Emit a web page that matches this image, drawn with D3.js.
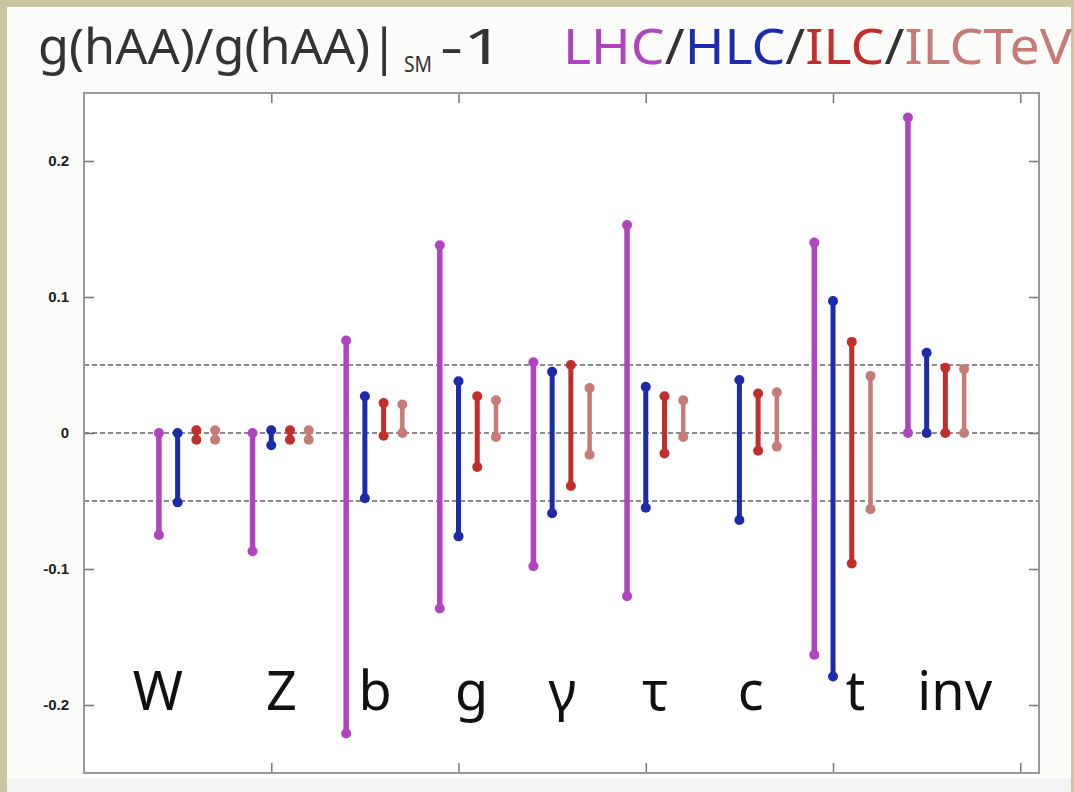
<!DOCTYPE html>
<html>
<head>
<meta charset="utf-8">
<script src="https://cdn.jsdelivr.net/npm/d3@7"></script>
<style>
  html, body { margin: 0; padding: 0; background: #cbc4a2; }
  svg { display: block; }
</style>
</head>
<body>
<div id="chart"></div>
<script>
// channels (x groups) and the four experiments, each entry = [low, high] of the coupling deviation
const categories = ["W", "Z", "b", "g", "γ", "τ", "c", "t", "inv"];
const labelPos = [0.79, 2.11, 3.11, 4.14, 5.11, 6.10, 7.12, 8.24, 9.30];
const lhc    = [[-0.075, 0], [-0.087, 0], [-0.221, 0.068], [-0.129, 0.138], [-0.098, 0.052], [-0.120, 0.153], null, [-0.163, 0.140], [0, 0.232]];
const hlc    = [[-0.051, 0], [-0.009, 0.002], [-0.048, 0.027], [-0.076, 0.038], [-0.059, 0.045], [-0.055, 0.034], [-0.064, 0.039], [-0.179, 0.097], [0, 0.059]];
const ilc    = [[-0.005, 0.002], [-0.005, 0.002], [-0.002, 0.022], [-0.025, 0.027], [-0.039, 0.050], [-0.015, 0.027], [-0.013, 0.029], [-0.096, 0.067], [0, 0.048]];
const ilcTeV = [[-0.005, 0.002], [-0.005, 0.002], [0, 0.021], [-0.003, 0.024], [-0.016, 0.033], [-0.003, 0.024], [-0.010, 0.030], [-0.056, 0.042], [0, 0.047]];
const seriesNames = ["LHC", "HLC", "ILC", "ILCTeV"];
const yTicks = [-0.2, -0.1, 0, 0.1, 0.2];
const xTicks = [2, 4, 6, 8, 10];
const refLines = [0.05, 0, -0.05];

const W = 1074, H = 792;
const COLOR = d3.scaleOrdinal(seriesNames, ["#b044c0", "#1c2aab", "#c22f2a", "#c77a76"]);
const WIDTH = { LHC: 5.5, HLC: 5, ILC: 5, ILCTeV: 4.5 };
const OFFSET = { LHC: -0.2, HLC: 0, ILC: 0.2, ILCTeV: 0.4 };

const svg = d3.select("#chart").append("svg")
    .attr("width", W).attr("height", H)
    .style("font-family", "'Noto Sans', 'DejaVu Sans', sans-serif");

// panel (beige frame shows on left/top/right)
svg.append("rect").attr("x", 7).attr("y", 7).attr("width", W - 10).attr("height", H - 7).attr("fill", "#fcfcfa");
svg.append("rect").attr("x", 7).attr("y", 779).attr("width", W - 10).attr("height", 13).attr("fill", "#f3f3f5");

const margin = { left: 84, right: 1039, top: 93, bottom: 773 };
const x = d3.scaleLinear().domain([0, 10.2]).range([margin.left, margin.right]);
const y = d3.scaleLinear().domain([-0.25, 0.25]).range([margin.bottom, margin.top]);

svg.append("rect")
    .attr("x", margin.left).attr("y", margin.top)
    .attr("width", margin.right - margin.left).attr("height", margin.bottom - margin.top)
    .attr("fill", "#fff");

// dashed reference lines
svg.append("g").selectAll("line")
    .data(refLines)
    .join("line")
    .attr("x1", margin.left).attr("x2", margin.right)
    .attr("y1", d => y(d)).attr("y2", d => y(d))
    .attr("stroke", "#666").attr("stroke-width", 1.3)
    .attr("stroke-dasharray", "5,3");

// axes
const fmt = d => d === 0 ? "0" : String(d);
const axisStyle = g => {
    g.select(".domain").remove();
    g.selectAll(".tick line").attr("stroke", "#777").attr("stroke-width", 1.5);
};
svg.append("g").attr("transform", `translate(${margin.left},0)`)
    .call(d3.axisLeft(y).tickValues(yTicks).tickSize(-10).tickPadding(15).tickFormat(fmt))
    .call(axisStyle)
    .call(g => g.selectAll("text")
        .attr("font-size", 15).attr("font-weight", "bold")
        .attr("font-family", "'Liberation Sans', Arial, sans-serif")
        .attr("fill", "#222"));
svg.append("g").attr("transform", `translate(${margin.right},0)`)
    .call(d3.axisRight(y).tickValues(yTicks).tickSize(-10).tickFormat(""))
    .call(axisStyle);
svg.append("g").attr("transform", `translate(0,${margin.top})`)
    .call(d3.axisTop(x).tickValues(xTicks).tickSize(-10).tickFormat(""))
    .call(axisStyle);
svg.append("g").attr("transform", `translate(0,${margin.bottom})`)
    .call(d3.axisBottom(x).tickValues(xTicks).tickSize(-10).tickFormat(""))
    .call(axisStyle);

// frame
svg.append("rect")
    .attr("x", margin.left).attr("y", margin.top)
    .attr("width", margin.right - margin.left).attr("height", margin.bottom - margin.top)
    .attr("fill", "none").attr("stroke", "#999").attr("stroke-width", 2);

// error ranges
const allSeries = [lhc, hlc, ilc, ilcTeV];
const marks = [];
seriesNames.forEach((name, s) => {
    allSeries[s].forEach((r, i) => {
        if (r) marks.push({ name, i, lo: r[0], hi: r[1] });
    });
});

const bars = svg.append("g").selectAll("g")
    .data(marks)
    .join("g");

bars.append("line")
    .attr("x1", d => x(d.i + 1 + OFFSET[d.name])).attr("x2", d => x(d.i + 1 + OFFSET[d.name]))
    .attr("y1", d => y(d.lo)).attr("y2", d => y(d.hi))
    .attr("stroke", d => COLOR(d.name))
    .attr("stroke-width", d => WIDTH[d.name]);

bars.selectAll("circle")
    .data(d => [d.lo, d.hi].map(v => ({ name: d.name, i: d.i, v })))
    .join("circle")
    .attr("cx", d => x(d.i + 1 + OFFSET[d.name]))
    .attr("cy", d => y(d.v))
    .attr("r", 5)
    .attr("fill", d => COLOR(d.name));

// channel labels
svg.append("g").selectAll("text")
    .data(categories)
    .join("text")
    .attr("x", (d, i) => x(labelPos[i]))
    .attr("y", 710)
    .attr("text-anchor", "middle")
    .attr("font-size", 54)
    .attr("fill", "#111")
    .text(d => d);

// title
const title = svg.append("g").attr("font-size", 50);
const piece = (txt, x0, len, fill, opts = {}) => title.append("text")
    .attr("x", x0).attr("y", opts.y || 64)
    .attr("font-size", opts.size || null)
    .attr("textLength", len).attr("lengthAdjust", "spacingAndGlyphs")
    .attr("fill", fill)
    .text(txt);
piece("g(hAA)/g(hAA)|", 38, 360, "#333");
piece("SM", 404, 28, "#333", { size: 22, y: 72 });
piece("-1", 440, 64, "#333");

// coloured experiment list, one text so the slashes sit between the names
const legend = title.append("text")
    .attr("x", 563).attr("y", 64)
    .attr("textLength", 509).attr("lengthAdjust", "spacingAndGlyphs");
seriesNames.forEach((name, i) => {
    if (i > 0) legend.append("tspan").attr("fill", "#333").text("/");
    legend.append("tspan").attr("fill", COLOR(name)).text(name);
});
</script>
</body>
</html>
